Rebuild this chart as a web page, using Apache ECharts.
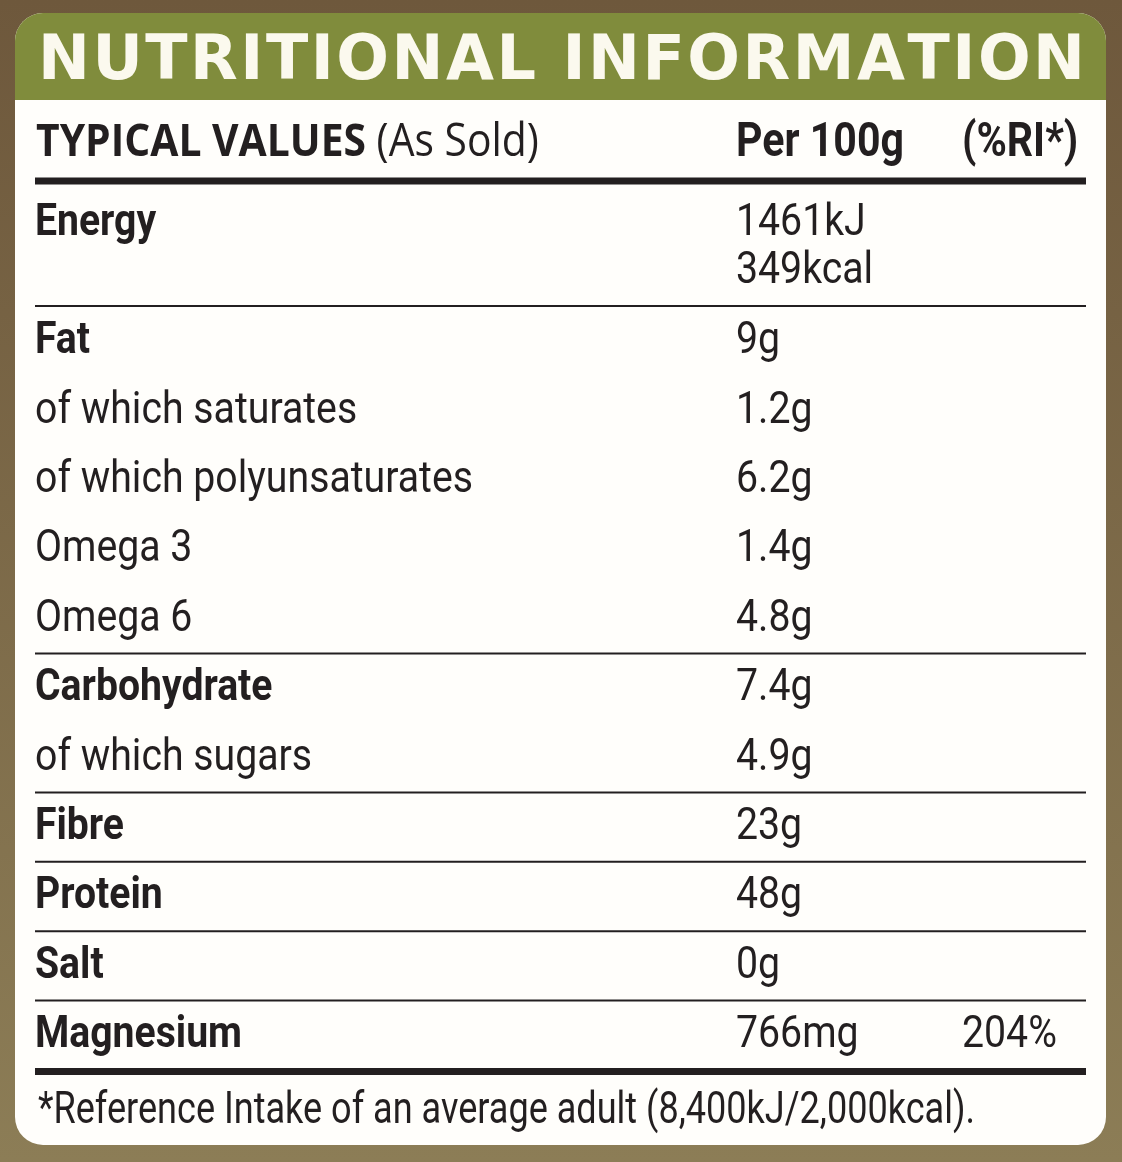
<!DOCTYPE html>
<html>
<head>
<meta charset="utf-8">
<script src="https://cdn.jsdelivr.net/npm/echarts@6/dist/echarts.min.js"></script>
<style>
  html, body { margin: 0; padding: 0; background: #7a6647; }
  #chart { width: 1122px; height: 1162px; }
</style>
</head>
<body>
<div id="chart"></div>
<script>
'use strict';

// table content
var title = 'NUTRITIONAL INFORMATION';
var headLabel = 'TYPICAL VALUES';
var headNote = '(As Sold)';
var headColumns = ['Per 100g', '(%RI*)'];
var nutrients = ['Energy', 'Fat', 'of which saturates', 'of which polyunsaturates', 'Omega 3', 'Omega 6',
  'Carbohydrate', 'of which sugars', 'Fibre', 'Protein', 'Salt', 'Magnesium'];
var amounts = [['1461kJ', '349kcal'], ['9g'], ['1.2g'], ['6.2g'], ['1.4g'], ['4.8g'],
  ['7.4g'], ['4.9g'], ['23g'], ['48g'], ['0g'], ['766mg']];
var riValues = ['', '', '', '', '', '', '', '', '', '', '', '204%'];
var boldRows = [true, true, false, false, false, false, true, false, true, true, true, true];
var groupEnds = [0, 5, 7, 8, 9, 10];
var footnote = '*Reference Intake of an average adult (8,400kJ/2,000kcal).';

var INK = '#231f20';
var GREEN = '#808c3c';
var CREAM = '#fbf9ee';
var BODY_FONT = 'Roboto';
var BODY_SIZE = 45;

var ctx = document.createElement('canvas').getContext('2d');
function measure(str, weight, size, family) {
  ctx.font = weight + ' ' + size + 'px ' + family;
  return ctx.measureText(str).width;
}

// condense Roboto to look like the narrow face on the label
var scaleReg = 438 / measure('of which polyunsaturates', 400, BODY_SIZE, BODY_FONT);
var scaleBold = 207 / measure('Magnesium', 700, BODY_SIZE, BODY_FONT);
var scaleFoot = 937 / measure(footnote, 400, BODY_SIZE, BODY_FONT);
var scaleHead = 168 / measure(headColumns[0], 700, 48, BODY_FONT);

function text(x, y, str, bold, scale, size) {
  return {
    type: 'text',
    x: x,
    y: y,
    scaleX: scale || (bold ? scaleBold : scaleReg),
    style: {
      text: str,
      x: 0,
      y: 0,
      fontFamily: BODY_FONT,
      fontSize: size || BODY_SIZE,
      fontWeight: bold ? 700 : 400,
      fill: INK,
      align: 'left',
      verticalAlign: 'middle'
    }
  };
}

function rule(y, h) {
  return { type: 'rect', shape: { x: 35, y: y - h / 2, width: 1051, height: h }, style: { fill: INK } };
}

var colName = 35;
var colAmount = 736;
var colRi = 962;

function rowY(i) {
  return i === 0 ? 221 : 339 + (i - 1) * 69.4;
}

var elements = [];

// background and panel
elements.push({
  type: 'rect', shape: { x: 0, y: 0, width: 1122, height: 1162 },
  style: { fill: new echarts.graphic.LinearGradient(0, 0, 0, 1, [
    { offset: 0, color: '#6e583c' }, { offset: 1, color: '#8c7d56' }]) }
});
elements.push({
  type: 'rect', shape: { x: 15, y: 13, width: 1091, height: 1132, r: 28 },
  style: { fill: '#fffefb' }
});
elements.push({
  type: 'rect', shape: { x: 15, y: 13, width: 1091, height: 87, r: [28, 28, 0, 0] },
  style: { fill: GREEN }
});

// spaced title, one glyph at a time
(function () {
  var fam = 'DejaVu Sans', size = 62, weight = 700;
  var chars = title.split('');
  var widths = chars.map(function (c) { return measure(c, weight, size, fam); });
  var total = widths.reduce(function (a, b) { return a + b; }, 0);
  var gap = (1047 - total) / (chars.length - 1);
  var x = 38;
  chars.forEach(function (c, i) {
    elements.push({
      type: 'text', x: x, y: 63,
      style: { text: c, x: 0, y: 0, fontFamily: fam, fontSize: size, fontWeight: weight,
        fill: CREAM, align: 'left', verticalAlign: 'middle' }
    });
    x += widths[i] + gap;
  });
})();

// column headings
var headScale = 330 / measure(headLabel, 700, 45, 'Open Sans');
elements.push({
  type: 'text', x: 36, y: 143, scaleX: headScale,
  style: {
    text: '{b|' + headLabel + '}{r| ' + headNote + '}',
    x: 0, y: 0, align: 'left', verticalAlign: 'middle',
    rich: {
      b: { fontFamily: 'Open Sans', fontSize: 45, fontWeight: 700, fill: INK },
      r: { fontFamily: 'Open Sans', fontSize: 45, fontWeight: 400, fill: INK }
    }
  }
});
elements.push(text(colAmount, 144, headColumns[0], true, scaleHead, 48));
elements.push(text(colRi, 144, headColumns[1], true, scaleHead, 48));
elements.push(rule(181, 7));

// rows
nutrients.forEach(function (name, i) {
  var y = rowY(i) + 3;
  elements.push(text(colName, y, name, boldRows[i]));
  amounts[i].forEach(function (a, k) {
    elements.push(text(colAmount, y + k * 48, a, false));
  });
  if (riValues[i]) {
    elements.push(text(colRi, y, riValues[i], false));
  }
});

groupEnds.forEach(function (i) {
  var y = rowY(i) + (amounts[i].length - 1) * 48 + 37;
  elements.push(rule(y, 2));
});
elements.push(rule(rowY(nutrients.length - 1) + 38.5, 7));

elements.push(text(38, 1112, footnote, false, scaleFoot));

var myChart = echarts.init(document.getElementById('chart'));
myChart.setOption({
  animation: false,
  graphic: { elements: elements }
});
</script>
</body>
</html>
